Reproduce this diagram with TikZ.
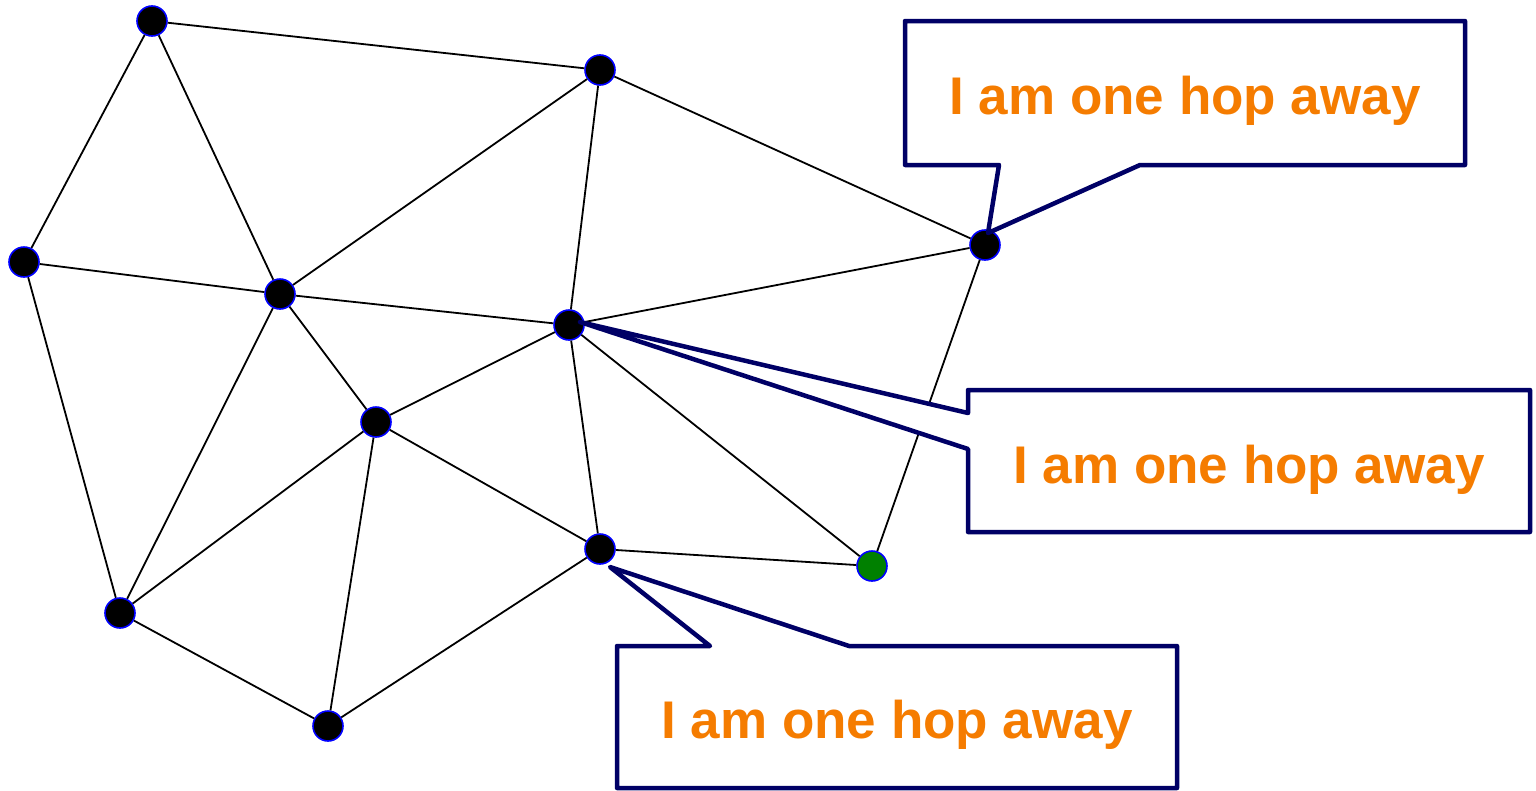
\documentclass[tikz,border=0pt]{standalone}
\usepackage{fontspec}
\setmainfont{Liberation Sans}
\usetikzlibrary{calc}
\definecolor{hopnavy}{RGB}{0,0,102}
\definecolor{hoporange}{RGB}{245,124,0}
\definecolor{ringblue}{RGB}{0,0,255}
\definecolor{srcgreen}{RGB}{0,128,0}
\begin{document}
\begin{tikzpicture}[x=1pt,y=-1pt,
  vertex/.style={circle,draw=ringblue,line width=1.6pt,fill=black,minimum size=30pt,inner sep=0pt},
  source/.style={vertex,fill=srcgreen},
  link/.style={line width=1.8pt,black},
  bubble/.style={draw=hopnavy,line width=4.5pt,fill=white,line join=round},
  hoptext/.style={text=hoporange,font=\fontsize{53}{60}\selectfont\bfseries,anchor=base,inner sep=0pt}]
\useasboundingbox (0,0) rectangle (1536,790);

% network vertices
\node[vertex] (A) at (152,21) {};
\node[vertex] (B) at (600,70) {};
\node[vertex] (C) at (24,262) {};
\node[vertex] (D) at (280,294) {};
\node[vertex] (E) at (569,325) {};
\node[vertex] (F) at (985,245) {};
\node[vertex] (G) at (376,422) {};
\node[vertex] (H) at (600,549) {};
\node[source] (I) at (872,566) {};
\node[vertex] (J) at (120,613) {};
\node[vertex] (K) at (328,726) {};

% network links
\draw[link] (A) -- (B);
\draw[link] (A) -- (C);
\draw[link] (A) -- (D);
\draw[link] (B) -- (D);
\draw[link] (B) -- (E);
\draw[link] (B) -- (F);
\draw[link] (C) -- (D);
\draw[link] (C) -- (J);
\draw[link] (D) -- (E);
\draw[link] (D) -- (G);
\draw[link] (D) -- (J);
\draw[link] (E) -- (F);
\draw[link] (E) -- (G);
\draw[link] (E) -- (H);
\draw[link] (E) -- (I);
\draw[link] (F) -- (I);
\draw[link] (G) -- (H);
\draw[link] (G) -- (J);
\draw[link] (G) -- (K);
\draw[link] (H) -- (I);
\draw[link] (H) -- (K);
\draw[link] (J) -- (K);

% callout for F
\draw[bubble] (905,21) -- (1465,21) -- (1465,165) -- (1140,165)
  -- ($(F)+(3,-12)$) -- (999,165) -- (905,165) -- cycle;
\node[hoptext] (t1) at (1185,114) {I am one hop away};

% callout for E
\draw[bubble] (968,390) -- (1530,390) -- (1530,532) -- (968,532) -- (968,449)
  -- ($(E)+(11,-3)$) -- (968,413) -- cycle;
\node[hoptext] (t2) at (1249,483) {I am one hop away};

% callout for H
\draw[bubble] (617,646) -- (710,646) -- ($(H)+(10,18)$) -- (849,646)
  -- (1177,646) -- (1177,788) -- (617,788) -- cycle;
\node[hoptext] (t3) at (897,738) {I am one hop away};
\end{tikzpicture}
\end{document}
